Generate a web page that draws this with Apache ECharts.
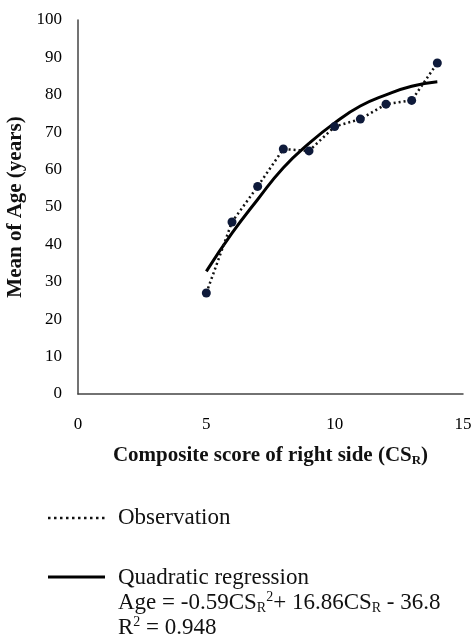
<!DOCTYPE html>
<html>
    <head>
        <meta charset="utf-8">
        <title>Mean of Age vs CS_R</title>
        <script src="https://cdn.jsdelivr.net/npm/echarts@6/dist/echarts.min.js"></script>
        <style>
            html, body { margin: 0; padding: 0; background: #fff; }
            #chart1 { width: 473px; height: 641px; }
        </style>
    </head>
    <body>
        <div id="chart1"></div>
    </body>
    <script type="text/javascript">
        // 数据
        var scoreCats = [5, 6, 7, 8, 9, 10, 11, 12, 13, 14];
        var observedAge = [27, 46, 55.5, 65.5, 65, 71.5, 73.5, 77.5, 78.5, 88.5];
        // quadratic fit
        var fittedAge = [32.8, 43, 52, 60.5, 67, 72.5, 77, 80, 82.3, 83.5];
        var xTicks = [0, 5, 10, 15];
        var yTicks = [0, 10, 20, 30, 40, 50, 60, 70, 80, 90, 100];

        var serif = "'Liberation Serif', 'DejaVu Serif', serif";

        var myChart = echarts.init(document.getElementById('chart1'));

        var obsPts = scoreCats.map(function (x, i) { return [x, observedAge[i]]; });
        var fitPts = scoreCats.map(function (x, i) { return [x, fittedAge[i]]; });

        var option = {
            backgroundColor: '#fff',
            animation: false,
            grid: { left: 78, right: 10, top: 20, bottom: 247, containLabel: false, outerBoundsMode: 'none' },
            xAxis: {
                type: 'value',
                min: xTicks[0],
                max: xTicks[xTicks.length - 1],
                interval: 5,
                name: 'Composite score of right side (CS{s|R})',
                nameLocation: 'middle',
                nameGap: 50,
                nameTextStyle: {
                    fontFamily: serif, fontSize: 21, fontWeight: 'bold', color: '#111',
                    rich: { s: { fontFamily: serif, fontSize: 13, fontWeight: 'bold', color: '#111', verticalAlign: 'bottom', padding: [10, 0, 0, 0] } }
                },
                axisLine: { lineStyle: { color: '#444', width: 1.5 } },
                axisTick: { show: false },
                splitLine: { show: false },
                axisLabel: { margin: 22, fontFamily: serif, fontSize: 17, color: '#000' }
            },
            yAxis: {
                type: 'value',
                min: yTicks[0],
                max: yTicks[yTicks.length - 1],
                interval: 10,
                name: 'Mean of Age (years)',
                nameLocation: 'middle',
                nameGap: 46,
                nameTextStyle: { fontFamily: serif, fontSize: 21, fontWeight: 'bold', color: '#111' },
                axisLine: { show: true, lineStyle: { color: '#444', width: 1.5 } },
                axisTick: { show: false },
                splitLine: { show: false },
                axisLabel: { margin: 16, fontFamily: serif, fontSize: 17, color: '#000' }
            },
            series: [
                {
                    name: 'Observation',
                    type: 'line',
                    data: obsPts,
                    symbol: 'circle',
                    symbolSize: 9,
                    itemStyle: { color: '#0e1a3a' },
                    lineStyle: { color: '#111', width: 2.5, type: [2, 3] },
                    z: 3
                },
                {
                    name: 'Quadratic regression',
                    type: 'line',
                    data: fitPts,
                    smooth: true,
                    symbol: 'none',
                    lineStyle: { color: '#000', width: 3 },
                    z: 2
                }
            ],
            // 图例（手绘）
            graphic: [
                { type: 'line', shape: { x1: 48, y1: 518, x2: 105, y2: 518 }, style: { stroke: '#111', lineWidth: 2.5, lineDash: [2.5, 3.5] } },
                { type: 'text', left: 118, top: 506, style: { text: 'Observation', font: '23px ' + serif, fill: '#111' } },
                { type: 'line', shape: { x1: 48, y1: 577, x2: 105, y2: 577 }, style: { stroke: '#000', lineWidth: 3 } },
                {
                    type: 'text', left: 118, top: 565,
                    style: {
                        text: 'Quadratic regression\nAge = -0.59CS{s|R}{p|2}+ 16.86CS{s|R} - 36.8\nR{p|2} = 0.948',
                        font: '23px ' + serif, fill: '#111', lineHeight: 25,
                        rich: {
                            s: { font: '14px ' + serif, fill: '#111', verticalAlign: 'bottom', padding: [10, 0, 0, 0] },
                            p: { font: '14px ' + serif, fill: '#111', verticalAlign: 'top', padding: [0, 0, 8, 0] }
                        }
                    }
                }
            ]
        };
        myChart.setOption(option);
    </script>
</html>
